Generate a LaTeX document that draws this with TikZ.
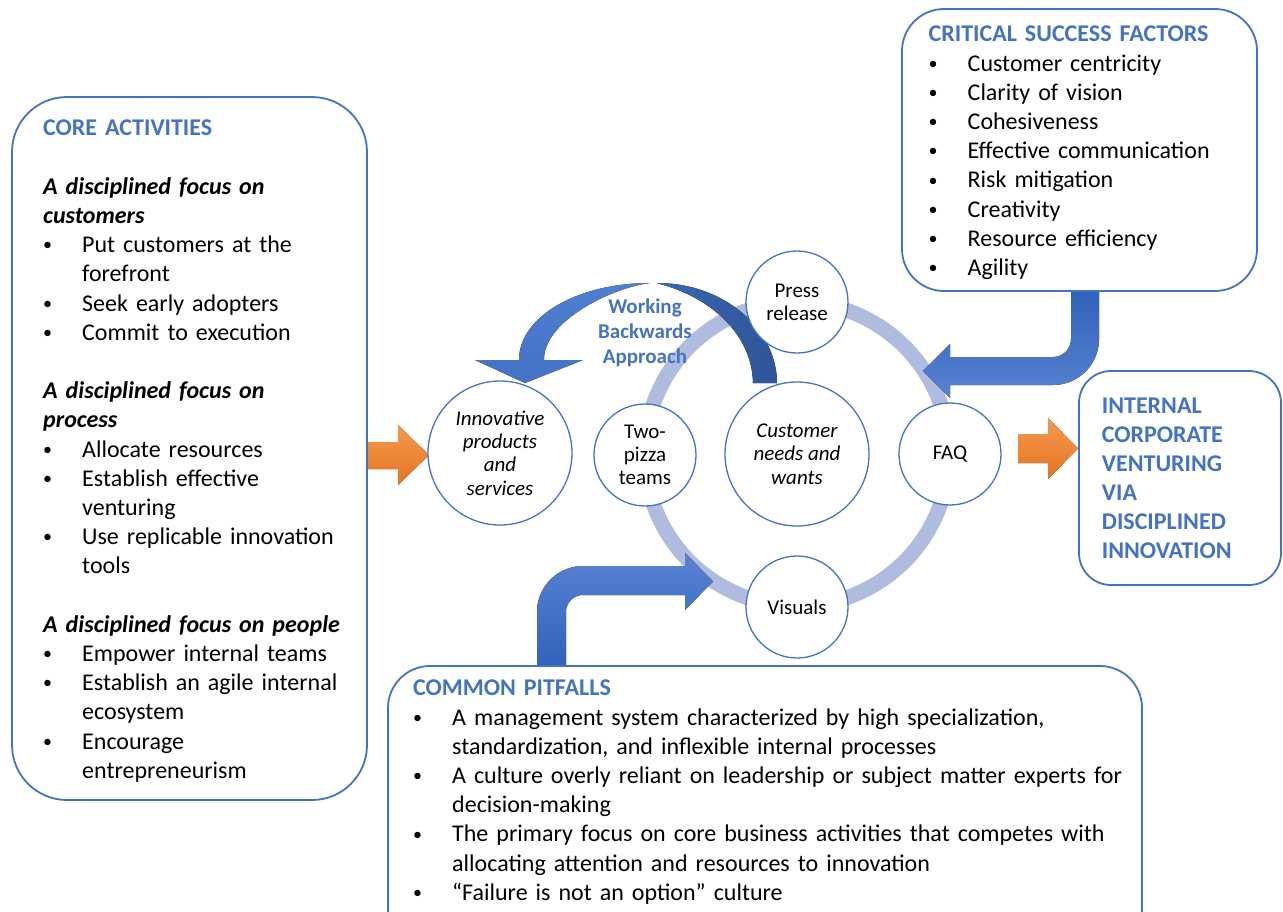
\documentclass[tikz,border=0pt]{standalone}
\usepackage{fontspec}
\setmainfont{Carlito}
\setlength\parindent{0pt}
\definecolor{hdblue}{HTML}{4472C4}
\definecolor{ringblue}{HTML}{AFBBDF}
\definecolor{deepblue}{HTML}{2F5597}
\definecolor{midblue}{HTML}{3A66B4}
\definecolor{lightarc}{HTML}{4F7FD2}
\definecolor{arrowtop}{HTML}{2F62BB}
\definecolor{arrowlow}{HTML}{5A83D2}
\definecolor{orlight}{HTML}{F39A52}
\definecolor{ordark}{HTML}{E8731F}
% bullet item and continuation line with a 39pt hanging indent
\newcommand\bul{\makebox[39pt][l]{\raisebox{1.8pt}{\fontsize{18}{18}\selectfont\textbullet}}}
\newcommand\contline{\hspace*{39pt}}
\newcommand\firststrut{\rule{0pt}{20pt}}
\newcommand\hd[1]{{\bfseries\color{hdblue}#1}}

\begin{document}
\begin{tikzpicture}[x=1pt, y=-1pt,
  panel/.style={draw=hdblue, line width=1.8pt, fill=white, inner sep=0pt,
    outer sep=0pt, anchor=north west},
  txt/.style={anchor=north west, inner sep=0pt, align=left,
    font=\fontsize{24}{29.2}\selectfont},
  stage/.style={circle, draw=hdblue, line width=1.3pt, fill=white,
    inner sep=0pt, align=center, minimum size=102pt,
    font=\fontsize{21}{23.3}\selectfont},
  bigstage/.style={stage, minimum size=144pt,
    font=\fontsize{21}{23.3}\selectfont\itshape},
  blockarrow/.style={top color=arrowtop, bottom color=arrowlow},
  orangearrow/.style={top color=orlight, bottom color=ordark},
]
\useasboundingbox (0,0) rectangle (1283,911);

% the cycle ring
\coordinate (hub) at (797,454);
\draw[ringblue, line width=15pt] (hub) circle[radius=152];

% Working Backwards curved arrow: two tapering crescents meeting at the top
\fill[top color=lightarc, bottom color=hdblue]
  (519,360) .. controls (519,316) and (578.5,283) .. (650,283)
  .. controls (610,288) and (543,322) .. (544,360)
  -- (583,360) -- (525,383) -- (475,360) -- cycle;
\fill[left color=midblue, right color=deepblue]
  (657,283) .. controls (725,283) and (777,330) .. (777,383)
  -- (753,383) .. controls (752,335) and (712,298) .. (660,284) -- cycle;

% bent arrow from the success factors into the ring
\fill[blockarrow]
  (1099,290) -- (1099,339)
  -- plot[domain=0:90, samples=20] ({1053+46*cos(\x)}, {339+46*sin(\x)})
  -- (950,385) -- (950,398) -- (923,371) -- (950,344) -- (950,357)
  -- plot[domain=90:0, samples=20] ({1053+18*cos(\x)}, {339+18*sin(\x)})
  -- (1071,290) -- cycle;

% bent arrow from the pitfalls into the ring
\fill[top color=arrowlow, bottom color=arrowtop]
  (537,667) -- (537,612)
  -- plot[domain=180:270, samples=20] ({583+46*cos(\x)}, {612+46*sin(\x)})
  -- (685,566) -- (685,553) -- (713,581.5) -- (685,610) -- (685,595)
  -- plot[domain=270:180, samples=20] ({583+17*cos(\x)}, {612+17*sin(\x)})
  -- (566,667) -- cycle;

% orange block arrows
\fill[orangearrow] (368,442) -- (398,442) -- (398,425) -- (429,455)
  -- (398,485) -- (398,469) -- (368,469) -- cycle;
\fill[orangearrow] (1018,434) -- (1048,434) -- (1048,418) -- (1078,448.5)
  -- (1048,479) -- (1048,463) -- (1018,463) -- cycle;

% panels
\node[panel, rounded corners=55pt, minimum width=355pt, minimum height=703pt]
  (core) at (12,97) {};
\node[panel, rounded corners=42pt, minimum width=355pt, minimum height=282pt]
  (csf) at (902,9) {};
\node[panel, rounded corners=32pt, minimum width=202pt, minimum height=214pt]
  (icv) at (1079,371) {};
\node[panel, rounded corners=42pt, minimum width=754pt, minimum height=300pt]
  (pit) at (388,666) {};

% stages of the cycle
\node[stage] (press) at (797,302) {Press\\release};
\node[stage] (visuals) at (797,607) {Visuals};
\node[stage] (pizza) at (645,455) {Two-\\pizza\\teams};
\node[stage] (faq) at (950,454) {FAQ};
\node[bigstage] (needs) at (hub) {Customer\\needs and\\wants};
\node[bigstage] (products) at (500,453) {Innovative\\products\\and\\services};

\node[anchor=north, inner sep=0pt, align=center, text=hdblue,
  font=\fontsize{21}{25}\selectfont\bfseries] (wba) at (645,297)
  {\rule{0pt}{16pt}Working\\Backwards\\Approach};

% panel texts
\node[txt, text width=320pt] (coretxt) at (43,115.7) {%
\firststrut\hd{CORE ACTIVITIES}\\
\mbox{}\\
\textbf{\textit{A disciplined focus on}}\\
\textbf{\textit{customers}}\\
\bul Put customers at the\\
\contline forefront\\
\bul Seek early adopters\\
\bul Commit to execution\\
\mbox{}\\
\textbf{\textit{A disciplined focus on}}\\
\textbf{\textit{process}}\\
\bul Allocate resources\\
\bul Establish effective\\
\contline venturing\\
\bul Use replicable innovation\\
\contline tools\\
\mbox{}\\
\textbf{\textit{A disciplined focus on people}}\\
\bul Empower internal teams\\
\bul Establish an agile internal\\
\contline ecosystem\\
\bul Encourage\\
\contline entrepreneurism};

\node[txt, text width=320pt] (csftxt) at (928.5,21.7) {%
\firststrut\hd{CRITICAL SUCCESS FACTORS}\\
\bul Customer centricity\\
\bul Clarity of vision\\
\bul Cohesiveness\\
\bul Effective communication\\
\bul Risk mitigation\\
\bul Creativity\\
\bul Resource efficiency\\
\bul Agility};

\node[txt, text width=175pt, font=\fontsize{24}{29}\selectfont\bfseries,
  text=hdblue] (icvtxt) at (1101.7,393.3) {%
\firststrut INTERNAL\\
CORPORATE\\
VENTURING\\
VIA\\
DISCIPLINED\\
INNOVATION};

\node[txt, text width=725pt] (pittxt) at (413,675.7) {%
\firststrut\hd{COMMON PITFALLS}\\
\bul A management system characterized by high specialization,\\
\contline standardization, and inflexible internal processes\\
\bul A culture overly reliant on leadership or subject matter experts for\\
\contline decision-making\\
\bul The primary focus on core business activities that competes with\\
\contline allocating attention and resources to innovation\\
\bul “Failure is not an option” culture};
\end{tikzpicture}
\end{document}
